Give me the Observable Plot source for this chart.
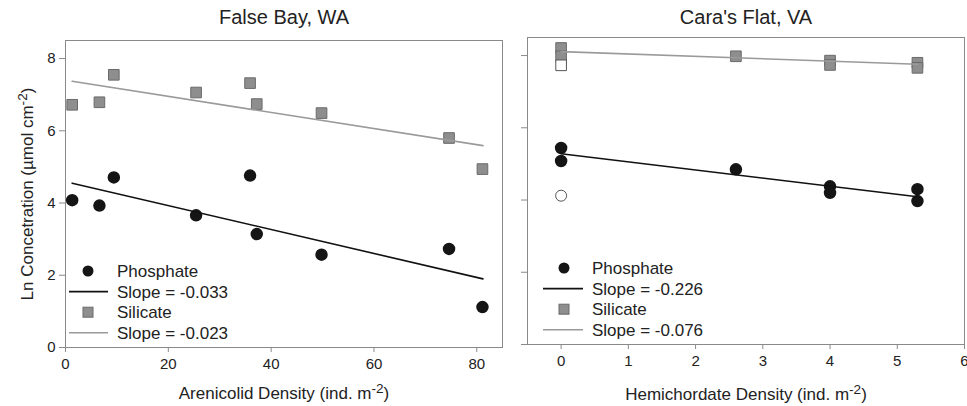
<!DOCTYPE html>
<html><head><meta charset="utf-8">
<script src="https://cdn.jsdelivr.net/npm/d3@7"></script>
<script src="https://cdn.jsdelivr.net/npm/@observablehq/plot@0.6"></script>
<style>
body{margin:0;background:#fff;}
#wrap{position:relative;width:967px;height:406px;overflow:hidden;background:#fff;font-family:"Liberation Sans",Arial,sans-serif;}
</style></head><body><div id="wrap"></div>
<script>
// ---- False Bay, WA ----
const falseBayTitle = "False Bay, WA";
const falseBayXLabel = "Arenicolid Density (ind. m^-2)";
const falseBayDensity   = [1.3, 6.6, 9.4, 25.4, 35.9, 37.2, 49.8, 74.6, 81.1];
const falseBayPhosphate = [4.08, 3.93, 4.71, 3.66, 4.76, 3.14, 2.57, 2.73, 1.12];
const falseBaySilicate  = [6.72, 6.79, 7.55, 7.06, 7.32, 6.74, 6.49, 5.80, 4.94];
const falseBayFitX = [1.3, 81.2];
const falseBayPhosphateFit = [4.55, 1.90];
const falseBaySilicateFit  = [7.37, 5.59];
const falseBayXTicks = [0, 20, 40, 60, 80];
const falseBayLegend = ["Phosphate", "Slope = -0.033", "Silicate", "Slope = -0.023"];

// ---- Cara's Flat, VA ----
const carasTitle = "Cara's Flat, VA";
const carasXLabel = "Hemichordate Density (ind. m^-2)";
const carasDensity   = [0, 0, 2.6, 4, 4, 5.3, 5.3];
const carasPhosphate = [5.44, 5.08, 4.85, 4.38, 4.20, 4.30, 3.97];
const carasSilicate  = [8.21, 7.98, 7.98, 7.86, 7.74, 7.80, 7.66];
const carasOpenDensity = [0];
const carasOpenPhosphate = [4.12];
const carasOpenSilicate = [7.73];
const carasFitX = [0, 5.3];
const carasPhosphateFit = [5.28, 4.09];
const carasSilicateFit  = [8.11, 7.76];
const carasXTicks = [0, 1, 2, 3, 4, 5, 6];
const carasLegend = ["Phosphate", "Slope = -0.226", "Silicate", "Slope = -0.076"];

const yLabel = "Ln Concetration (µmol cm^-2)";
const yTicks = [0, 2, 4, 6, 8];

const FONT = "'Liberation Sans', Arial, sans-serif";
const TXT = "#222";
const AX = "#8a8a8a";
const SQF = "#8e8e8e", SQS = "#6a6a6a";
const DOT = "#151515";
const GRAYLINE = "#9a9a9a";

const zip = (xs, ys) => xs.map((x, i) => ({x, y: ys[i]}));

function panel(cfg) {
  const marks = [
    Plot.frame({stroke: AX}),
    Plot.axisX({ticks: cfg.xTicks, tickSize: 5, tickPadding: 6, stroke: AX, fill: TXT, label: null, fontSize: 15,
      tickFormat: d => String(d)}),
    Plot.axisY({ticks: yTicks, tickSize: 6, tickPadding: 4, stroke: AX, fill: TXT, label: null, fontSize: 15,
      tickFormat: cfg.yLabels ? (d => String(d)) : (() => "")}),
    Plot.dot(zip(cfg.x, cfg.sil), {x: "x", y: "y", symbol: "square", r: 6, fill: SQF, stroke: SQS, strokeWidth: 1}),
    Plot.dot(zip(cfg.x, cfg.pho), {x: "x", y: "y", r: 5.5, fill: DOT, stroke: DOT})
  ];
  if (cfg.openX) {
    marks.push(Plot.dot(zip(cfg.openX, cfg.openSil), {x: "x", y: "y", symbol: "square", r: 6, fill: "white", stroke: "#555", strokeWidth: 1}));
    marks.push(Plot.dot(zip(cfg.openX, cfg.openPho), {x: "x", y: "y", r: 5.5, fill: "white", stroke: "#555", strokeWidth: 1}));
  }
  marks.push(
    Plot.line(zip(cfg.fitX, cfg.silFit), {x: "x", y: "y", stroke: GRAYLINE, strokeWidth: 1.6}),
    Plot.line(zip(cfg.fitX, cfg.phoFit), {x: "x", y: "y", stroke: "#111", strokeWidth: 1.6}),
    Plot.text([cfg.title], {text: d => d, frameAnchor: "top", lineAnchor: "middle", dy: cfg.titleDy, fontSize: 20, fill: TXT}),
    Plot.text([cfg.xLabel], {text: d => d, frameAnchor: "bottom", lineAnchor: "middle", dy: cfg.xLabelDy, fontSize: 17, fill: TXT})
  );
  if (cfg.yLabels) {
    marks.push(Plot.text([yLabel], {text: d => d, frameAnchor: "left", textAnchor: "middle", dx: -38, rotate: -90, fontSize: 17, fill: TXT}));
  }
  const svg = Plot.plot({
    width: cfg.width, height: 406,
    marginLeft: cfg.ml, marginRight: cfg.mr, marginTop: cfg.mt, marginBottom: cfg.mb,
    x: {domain: cfg.xDomain},
    y: {domain: [0, 8.5]},
    style: {fontFamily: FONT, fontSize: "15px", color: TXT, background: "transparent", overflow: "visible"},
    marks
  });
  svg.style.position = "absolute";
  svg.style.left = cfg.left + "px";
  svg.style.top = "0px";
  // superscripts
  d3.select(svg).selectAll("text").each(function () {
    const t = this.textContent;
    const m = t.match(/^(.*)\^(-?\d+)(.*)$/);
    if (!m) return;
    const el = d3.select(this);
    el.text(null);
    el.append("tspan").text(m[1]);
    el.append("tspan").attr("dy", "-6").attr("font-size", "0.8em").text(m[2]);
    el.append("tspan").attr("dy", "6").text(m[3]);
  });
  return svg;
}

const wrap = document.getElementById("wrap");

wrap.appendChild(panel({
  left: 0, width: 510, ml: 65, mr: 8, mt: 40, mb: 59,
  xDomain: [0, 85], xTicks: falseBayXTicks, yLabels: true,
  x: falseBayDensity, pho: falseBayPhosphate, sil: falseBaySilicate,
  fitX: falseBayFitX, phoFit: falseBayPhosphateFit, silFit: falseBaySilicateFit,
  title: falseBayTitle, titleDy: -23, xLabel: falseBayXLabel, xLabelDy: 46
}));

wrap.appendChild(panel({
  left: 510, width: 457, ml: 17, mr: 3, mt: 37, mb: 62,
  xDomain: [-0.5, 6], xTicks: carasXTicks, yLabels: false,
  x: carasDensity, pho: carasPhosphate, sil: carasSilicate,
  openX: carasOpenDensity, openPho: carasOpenPhosphate, openSil: carasOpenSilicate,
  fitX: carasFitX, phoFit: carasPhosphateFit, silFit: carasSilicateFit,
  title: carasTitle, titleDy: -20, xLabel: carasXLabel, xLabelDy: 50
}));

// legends (layout only)
function legend(items, left, top, symX, lineX1, lineX2, textX) {
  const svg = d3.create("svg").attr("width", 190).attr("height", 90)
    .style("position", "absolute").style("left", left + "px").style("top", top + "px")
    .style("font-family", FONT);
  const rowY = i => 11 + i * 20.6;
  const g = svg.append("g");
  g.append("circle").attr("cx", symX).attr("cy", rowY(0)).attr("r", 5.5).attr("fill", DOT);
  g.append("line").attr("x1", lineX1).attr("x2", lineX2).attr("y1", rowY(1)).attr("y2", rowY(1)).attr("stroke", "#111").attr("stroke-width", 1.6);
  g.append("rect").attr("x", symX - 5).attr("y", rowY(2) - 5).attr("width", 10).attr("height", 10).attr("fill", SQF).attr("stroke", SQS);
  g.append("line").attr("x1", lineX1).attr("x2", lineX2).attr("y1", rowY(3)).attr("y2", rowY(3)).attr("stroke", GRAYLINE).attr("stroke-width", 1.6);
  items.forEach((t, i) => {
    g.append("text").attr("x", textX).attr("y", rowY(i)).attr("dy", "0.35em")
      .attr("font-size", 17).attr("fill", TXT).text(t);
  });
  return svg.node();
}
wrap.appendChild(legend(falseBayLegend, 65, 260, 23, 4, 43, 52));
wrap.appendChild(legend(carasLegend, 527, 257, 37, 16, 56, 65));
</script>
</body></html>
